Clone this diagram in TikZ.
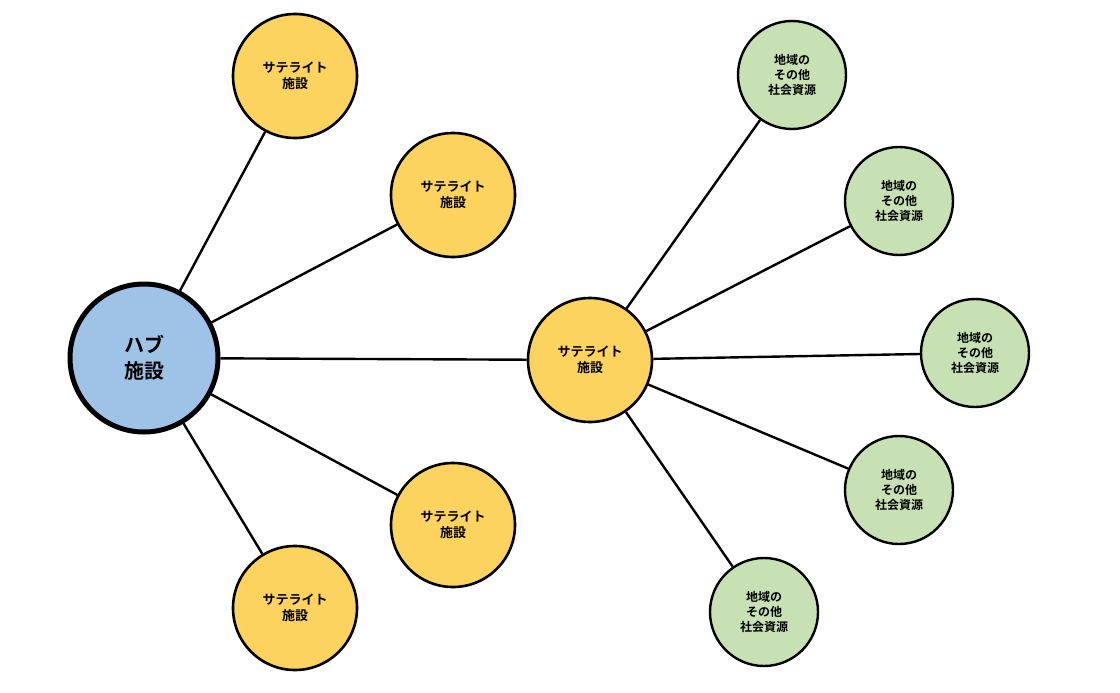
\documentclass[tikz,border=0pt]{standalone}
\usepackage{fontspec}
\newfontfamily\cjk{Noto Sans CJK JP}[BoldFont={Noto Sans CJK JP Bold}]
\definecolor{sat}{HTML}{FDD35F}
\definecolor{hub}{HTML}{9FC3E7}
\definecolor{grn}{HTML}{C7E1B5}
\begin{document}
\begin{tikzpicture}[x=1pt,y=-1pt,
  sat/.style={circle,draw=black,line width=2.6pt,fill=sat,minimum size=124pt,inner sep=0pt,align=center,font=\cjk\bfseries\fontsize{13}{16}\selectfont},
  res/.style={circle,draw=black,line width=2.4pt,fill=grn,minimum size=108pt,inner sep=0pt,align=center,font=\cjk\bfseries\fontsize{12}{15}\selectfont},
  hubs/.style={circle,draw=black,line width=5pt,fill=hub,minimum size=148pt,inner sep=0pt,align=center,font=\cjk\bfseries\fontsize{20}{26}\selectfont},
  ln/.style={line width=2.4pt}]
\useasboundingbox (0,0) rectangle (1120,693);
\node[hubs] (h) at (144,358) {ハブ\\施設};
\node[sat] (s1) at (295,76) {サテライト\\施設};
\node[sat] (s2) at (453,195) {サテライト\\施設};
\node[sat] (s3) at (453,525) {サテライト\\施設};
\node[sat] (s4) at (295,608) {サテライト\\施設};
\node[sat] (c) at (590,360) {サテライト\\施設};
\node[res] (g1) at (792,75) {地域の\\その他\\社会資源};
\node[res] (g2) at (899,201) {地域の\\その他\\社会資源};
\node[res] (g3) at (975,353) {地域の\\その他\\社会資源};
\node[res] (g4) at (899,490) {地域の\\その他\\社会資源};
\node[res] (g5) at (764,612) {地域の\\その他\\社会資源};
\begin{scope}[on background layer/.try]
\end{scope}
\foreach \t in {s1,s2,s3,s4,c} \draw[ln] (h) -- (\t);
\foreach \t in {g1,g2,g3,g4,g5} \draw[ln] (c) -- (\t);
\end{tikzpicture}
\end{document}
